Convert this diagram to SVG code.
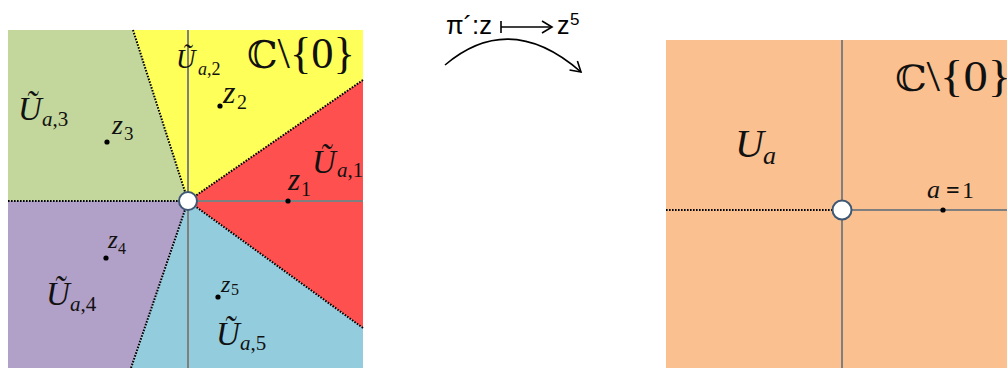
<svg xmlns="http://www.w3.org/2000/svg" width="1007" height="368" viewBox="0 0 1007 368">
<defs>
<style>
.m{font-family:"Liberation Serif","DejaVu Serif",serif;font-style:italic;fill:#111}
.r{font-family:"Liberation Serif","DejaVu Serif",serif;font-style:normal;fill:#111}
.bb{font-family:"DejaVu Serif","Liberation Serif",serif;font-style:normal;fill:#111}
.axis{stroke:#7f7f7f;stroke-width:2;fill:none}
.dot{stroke:#000;stroke-width:2;stroke-dasharray:1.6 1.4;fill:none}
.hole{fill:#fff;stroke:#3d5775;stroke-width:2}
.pt{fill:#000}
.sans{font-family:"Liberation Sans","Open Sans",sans-serif;fill:#000}
</style>
<marker id="chev" markerWidth="14" markerHeight="14" refX="11" refY="7" orient="auto" markerUnits="userSpaceOnUse">
<path d="M1,1 L11,7 L1,13" fill="none" stroke="#000" stroke-width="1.6"/>
</marker>
</defs>

<g id="left-plane">
<polygon points="8,30 133,30 188,201 8,201" fill="#c3d69b"/>
<polygon points="133,30 363,30 363,80 188,201" fill="#ffff59"/>
<polygon points="188,201 363,80 363,328" fill="#ff5050"/>
<polygon points="188,201 363,328 363,368 131,368" fill="#93cddd"/>
<polygon points="8,201 188,201 131,368 8,368" fill="#b1a0c7"/>
<line class="axis" x1="188" y1="30" x2="188" y2="368"/>
<line class="axis" x1="188" y1="201" x2="363" y2="201"/>
<line class="dot" x1="133" y1="30" x2="188" y2="201"/>
<line class="dot" x1="363" y1="80" x2="188" y2="201"/>
<line class="dot" x1="363" y1="328" x2="188" y2="201"/>
<line class="dot" x1="131" y1="368" x2="188" y2="201"/>
<line class="dot" x1="8" y1="201" x2="188" y2="201"/>
<circle class="hole" cx="188" cy="201" r="9"/>

<text x="247" y="68" font-size="44" textLength="108" lengthAdjust="spacingAndGlyphs" class="r"><tspan class="bb" font-size="38">ℂ</tspan>\{0}</text>

<text x="176" y="68" font-size="27" class="m">Ũ</text>
<text x="198" y="75" font-size="18" class="m">a<tspan class="r">,2</tspan></text>

<text x="18" y="120" font-size="33" class="m">Ũ</text>
<text x="42" y="126" font-size="21" class="m">a<tspan class="r">,3</tspan></text>

<text x="312" y="173" font-size="33" class="m">Ũ</text>
<text x="337" y="177" font-size="21" class="m">a<tspan class="r">,1</tspan></text>

<text x="46" y="305" font-size="33" class="m">Ũ</text>
<text x="70" y="311" font-size="21" class="m">a<tspan class="r">,4</tspan></text>

<text x="216" y="345" font-size="33" class="m">Ũ</text>
<text x="240" y="350" font-size="21" class="m">a<tspan class="r">,5</tspan></text>

<circle class="pt" cx="220" cy="106" r="2.6"/>
<text x="223" y="103" font-size="32" class="m">z</text>
<text x="237" y="109" font-size="20" class="r">2</text>

<circle class="pt" cx="107" cy="142" r="2.6"/>
<text x="112" y="134" font-size="28" class="m">z</text>
<text x="124" y="140" font-size="19" class="r">3</text>

<circle class="pt" cx="288" cy="201" r="2.6"/>
<text x="288" y="190" font-size="31" class="m">z</text>
<text x="301" y="196" font-size="20" class="r">1</text>

<circle class="pt" cx="106" cy="258" r="2.6"/>
<text x="108" y="248" font-size="25" class="m">z</text>
<text x="118" y="254" font-size="16" class="r">4</text>

<circle class="pt" cx="218" cy="297" r="2.6"/>
<text x="221" y="292" font-size="24" class="m">z</text>
<text x="231" y="295" font-size="16" class="r">5</text>
</g>

<g id="map-label">
<text x="446" y="34" font-size="25" textLength="46" lengthAdjust="spacingAndGlyphs" class="sans">π´:z</text>
<text x="557" y="34" font-size="25" class="sans">z</text>
<text x="570" y="25" font-size="17" class="sans">5</text>
</g>

<g id="connectors">
<line x1="501" y1="21" x2="501" y2="33" stroke="#000" stroke-width="1.6"/>
<line x1="501" y1="27" x2="552" y2="27" stroke="#000" stroke-width="1.4" marker-end="url(#chev)"/>
<path d="M445,65 Q510,10 581,72" fill="none" stroke="#000" stroke-width="1.6" marker-end="url(#chev)"/>
</g>

<g id="right-plane">
<rect x="666" y="40" width="341" height="328" fill="#fac090"/>
<line class="axis" x1="842" y1="40" x2="842" y2="368"/>
<line class="axis" x1="842" y1="210" x2="1007" y2="210"/>
<line class="dot" x1="666" y1="210" x2="842" y2="210"/>
<circle class="hole" cx="842" cy="210" r="9.5"/>
<circle class="pt" cx="943" cy="210" r="2.6"/>
<text x="895" y="91" font-size="44" textLength="116" lengthAdjust="spacingAndGlyphs" class="r"><tspan class="bb" font-size="36">ℂ</tspan>\{0}</text>
<text x="735" y="157" font-size="40" class="m">U</text>
<text x="763" y="164" font-size="26" class="m">a</text>
<text x="927" y="198" font-size="26" class="m">a</text>
<text x="946" y="198" font-size="24" class="r" font-weight="bold">=</text>
<text x="962" y="198" font-size="24" class="r">1</text>
</g>
</svg>
